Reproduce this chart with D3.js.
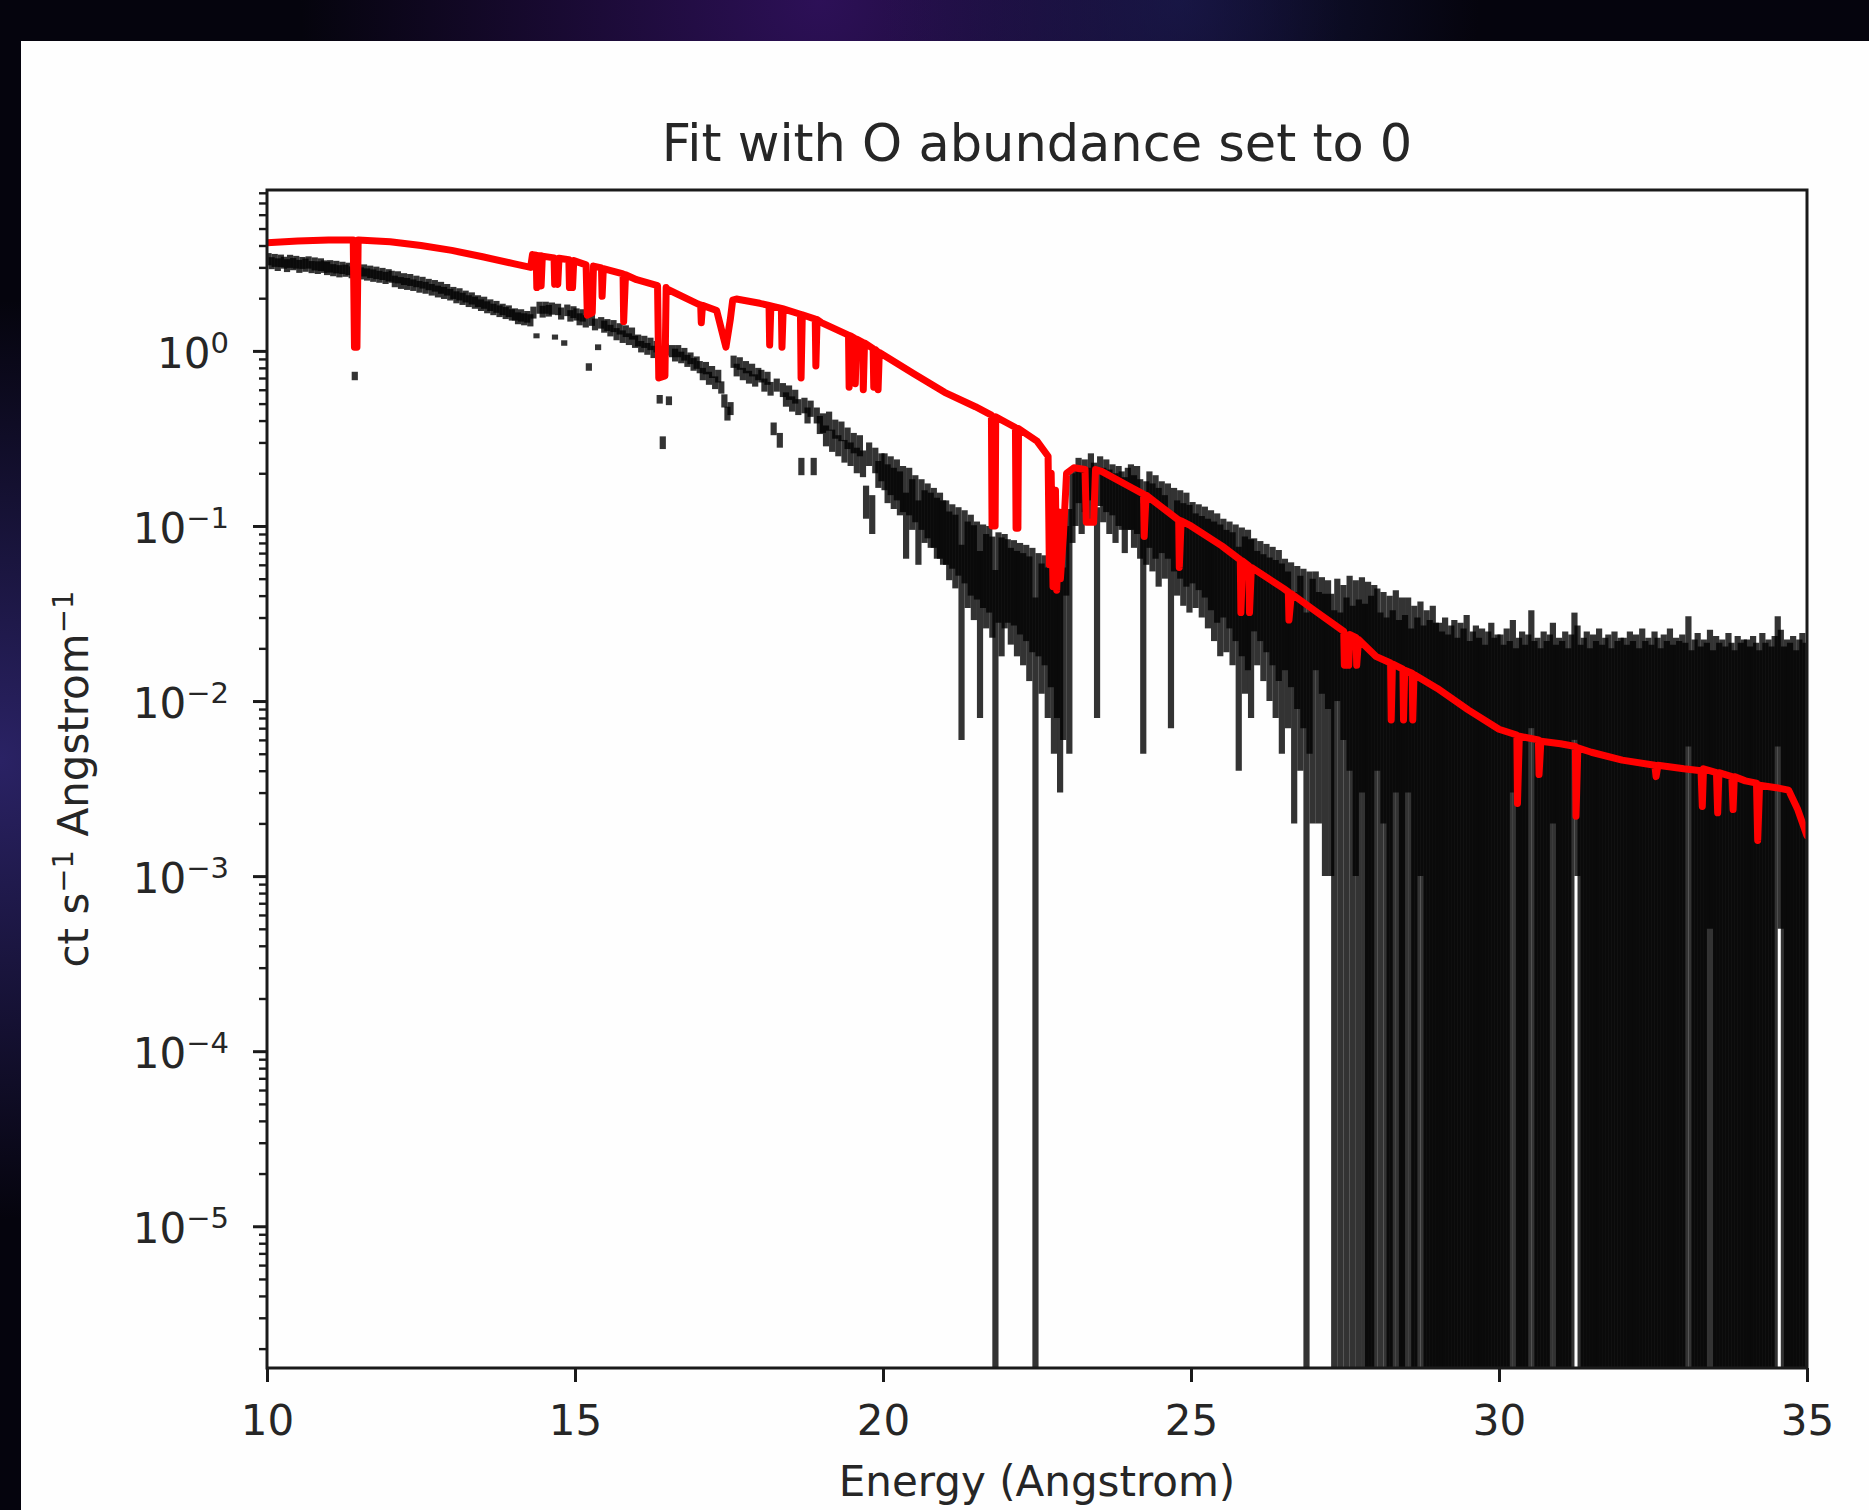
<!DOCTYPE html>
<html lang="en">
<head>
<meta charset="UTF-8">
<title>Fit with O abundance set to 0</title>
<script src="https://cdn.jsdelivr.net/npm/d3@7"></script>
<style>
  body { margin: 0; background: #05040d; }
  text { font-family: "DejaVu Sans", sans-serif; fill: #262626; }
</style>
</head>
<body>
<div class="chart"></div>
<script>
// spectrum bins, 0.05 A wide, first bin centre 10.025 A (one row = 1 A)
const binStart = 10.025, binWidth = 0.05;
const flux = [
  3.35,3.18,3.30,3.12,3.28,3.20,3.08,3.26,3.14,3.22,3.05,3.19,3.10,3.21,3.02,3.15,3.00,3.12,3.04,2.97, // 10
  3.05,2.90,3.02,2.86,2.99,2.88,2.95,2.82,0.72,2.92,2.78,2.89,2.74,2.84,2.70,2.80,2.66,2.76,2.62,2.71, // 11
  2.66,2.50,2.64,2.45,2.58,2.42,2.55,2.38,2.50,2.33,2.46,2.30,2.40,2.24,2.36,2.19,2.30,2.15,2.24,2.10, // 12
  2.15,2.03,2.11,1.99,2.05,1.93,2.00,1.89,1.93,1.83,1.89,1.78,1.83,1.73,1.79,1.69,1.73,1.65,1.69,1.61, // 13
  1.62,1.54,1.60,1.52,1.57,1.50,1.66,1.22,1.77,1.68,1.77,1.70,1.75,1.20,1.73,1.64,1.11,1.71,1.59,1.67, // 14
  1.62,1.52,1.60,1.48,0.81,1.51,1.42,1.05,1.45,1.38,1.41,1.31,1.39,1.25,1.34,1.21,1.30,1.17,1.26,1.13, // 15
  1.15,1.06,1.13,1.03,1.10,0.99,1.06,0.53,0.30,1.02,0.52,1.00,0.95,1.00,0.92,0.96,0.88,0.91,0.84,0.86, // 16
  0.81,0.74,0.80,0.70,0.76,0.66,0.72,0.62,0.52,0.44,0.47,0.87,0.78,0.85,0.74,0.81,0.71,0.78,0.68,0.74, // 17
  0.72,0.64,0.70,0.61,0.36,0.64,0.31,0.60,0.53,0.58,0.50,0.55,0.48,0.22,0.49,0.43,0.47,0.22,0.43,0.38, // 18
  0.39,0.33,0.40,0.31,0.36,0.29,0.35,0.27,0.32,0.26,0.30,0.24,0.29,0.23,0.14,0.26,0.12,0.24,0.20,0.22, // 19
  0.21,0.18,0.20,0.17,0.19,0.16,0.17,0.11,0.165,0.14,0.15,0.10,0.14,0.12,0.13,0.115,0.12,0.105,0.11,0.10, // 20
  0.10,0.085,0.095,0.08,0.09,0.042,0.085,0.07,0.078,0.065,0.072,0.04,0.068,0.058,0.066,0.055,0.022,0.06,0.052,0.058, // 21
  0.056,0.048,0.055,0.045,0.052,0.043,0.05,0.04,0.047,0.012,0.044,0.036,0.042,0.033,0.038,0.03,0.034,0.028,0.032,0.07, // 22
  0.065,0.14,0.16,0.19,0.15,0.18,0.16,0.20,0.17,0.068,0.19,0.16,0.18,0.15,0.17,0.14,0.16,0.15,0.13,0.155, // 23
  0.16,0.135,0.155,0.125,0.07,0.12,0.14,0.115,0.13,0.105,0.125,0.10,0.12,0.062,0.11,0.09,0.105,0.085,0.10,0.082, // 24
  0.092,0.076,0.088,0.072,0.084,0.068,0.078,0.064,0.073,0.06,0.07,0.057,0.066,0.054,0.062,0.04,0.058,0.049,0.055,0.046, // 25
  0.055,0.044,0.052,0.041,0.049,0.038,0.046,0.036,0.043,0.033,0.040,0.031,0.037,0.022,0.034,0.028,0.032,0.008,0.030,0.026, // 26
  0.035,0.022,0.031,0.021,0.029,0.021,0.013,0.03,0.012,0.026,0.015,0.028,0.011,0.025,0.014,0.027,0.012,0.024,0.016,0.022, // 27
  0.024,0.012,0.022,0.01,0.02,0.013,0.023,0.009,0.019,0.011,0.021,0.008,0.017,0.012,0.019,0.009,0.015,0.011,0.017,0.01, // 28
  0.012,0.009,0.014,0.008,0.011,0.013,0.007,0.012,0.01,0.015,0.008,0.011,0.013,0.009,0.012,0.007,0.011,0.014,0.009,0.01, // 29
  0.011,0.008,0.013,0.009,0.016,0.007,0.01,0.012,0.008,0.011,0.02,0.009,0.01,0.007,0.012,0.009,0.011,0.015,0.008,0.01, // 30
  0.009,0.012,0.007,0.011,0.019,0.014,0.008,0.01,0.012,0.007,0.011,0.009,0.013,0.008,0.01,0.011,0.007,0.012,0.009,0.01, // 31
  0.01,0.008,0.012,0.009,0.011,0.007,0.013,0.009,0.01,0.008,0.012,0.01,0.007,0.011,0.009,0.013,0.008,0.01,0.009,0.011, // 32
  0.009,0.018,0.007,0.01,0.012,0.008,0.01,0.009,0.013,0.007,0.011,0.009,0.01,0.008,0.012,0.009,0.007,0.011,0.009,0.01, // 33
  0.01,0.008,0.011,0.009,0.007,0.012,0.009,0.01,0.008,0.011,0.018,0.013,0.008,0.01,0.009,0.011,0.007,0.01,0.012,0.009  // 34
];
// 1-sigma error of each bin
const fluxErr = [
  0.27,0.25,0.28,0.26,0.27,0.25,0.26,0.28,0.25,0.27,0.26,0.25,0.27,0.26,0.24,0.27,0.25,0.26,0.25,0.26, // 10
  0.25,0.23,0.25,0.23,0.24,0.23,0.24,0.22,0.04,0.24,0.22,0.23,0.22,0.23,0.22,0.23,0.21,0.22,0.21,0.22, // 11
  0.21,0.19,0.21,0.19,0.20,0.19,0.20,0.18,0.19,0.18,0.19,0.18,0.18,0.17,0.18,0.17,0.18,0.17,0.17,0.16, // 12
  0.17,0.16,0.17,0.16,0.16,0.15,0.16,0.15,0.15,0.14,0.15,0.14,0.14,0.13,0.14,0.13,0.13,0.13,0.13,0.12, // 13
  0.13,0.12,0.13,0.12,0.12,0.12,0.13,0.04,0.14,0.13,0.14,0.13,0.14,0.04,0.13,0.13,0.04,0.13,0.12,0.13, // 14
  0.13,0.12,0.13,0.12,0.04,0.12,0.11,0.04,0.11,0.11,0.11,0.10,0.11,0.10,0.10,0.10,0.10,0.09,0.10,0.09, // 15
  0.09,0.08,0.09,0.08,0.09,0.08,0.08,0.03,0.025,0.08,0.03,0.08,0.08,0.08,0.07,0.08,0.07,0.07,0.07,0.07, // 16
  0.065,0.06,0.065,0.06,0.06,0.055,0.06,0.05,0.045,0.04,0.04,0.07,0.065,0.07,0.06,0.065,0.06,0.065,0.055,0.06, // 17
  0.06,0.055,0.06,0.055,0.03,0.055,0.03,0.055,0.05,0.055,0.05,0.05,0.05,0.025,0.05,0.045,0.05,0.025,0.045,0.045, // 18
  0.05,0.045,0.05,0.045,0.045,0.04,0.045,0.04,0.045,0.04,0.04,0.04,0.04,0.04,0.03,0.04,0.03,0.04,0.035,0.04, // 19
  0.05,0.045,0.05,0.045,0.05,0.045,0.05,0.045,0.05,0.045,0.045,0.04,0.045,0.04,0.045,0.04,0.045,0.04,0.045,0.04, // 20
  0.04,0.036,0.038,0.036,0.038,0.036,0.038,0.036,0.038,0.036,0.034,0.032,0.034,0.032,0.034,0.032,0.034,0.032,0.034,0.032, // 21
  0.028,0.027,0.028,0.027,0.028,0.027,0.028,0.027,0.028,0.027,0.026,0.025,0.026,0.025,0.026,0.025,0.026,0.025,0.026,0.03, // 22
  0.06,0.06,0.06,0.055,0.06,0.06,0.055,0.06,0.06,0.06,0.06,0.055,0.06,0.06,0.055,0.06,0.06,0.055,0.06,0.06, // 23
  0.065,0.06,0.065,0.06,0.065,0.06,0.065,0.06,0.065,0.06,0.055,0.05,0.055,0.055,0.055,0.05,0.055,0.05,0.055,0.05, // 24
  0.045,0.042,0.045,0.042,0.045,0.042,0.045,0.042,0.045,0.042,0.04,0.038,0.04,0.038,0.04,0.036,0.04,0.038,0.04,0.038, // 25
  0.03,0.028,0.03,0.028,0.03,0.028,0.03,0.028,0.03,0.028,0.025,0.024,0.025,0.02,0.025,0.024,0.025,0.024,0.025,0.024, // 26
  0.02,0.02,0.02,0.02,0.02,0.02,0.02,0.02,0.02,0.02,0.024,0.024,0.024,0.024,0.024,0.024,0.024,0.024,0.024,0.024, // 27
  0.02,0.02,0.02,0.02,0.02,0.02,0.02,0.02,0.02,0.02,0.018,0.018,0.018,0.018,0.018,0.018,0.018,0.018,0.018,0.018, // 28
  0.016,0.016,0.016,0.016,0.016,0.016,0.016,0.016,0.016,0.016,0.014,0.014,0.014,0.014,0.014,0.014,0.014,0.014,0.014,0.014, // 29
  0.013,0.013,0.013,0.013,0.013,0.013,0.013,0.013,0.013,0.013,0.013,0.013,0.013,0.013,0.013,0.013,0.013,0.013,0.013,0.013, // 30
  0.013,0.013,0.013,0.013,0.013,0.013,0.013,0.013,0.013,0.013,0.013,0.013,0.013,0.013,0.013,0.013,0.013,0.013,0.013,0.013, // 31
  0.013,0.013,0.013,0.013,0.013,0.013,0.013,0.013,0.013,0.013,0.013,0.013,0.013,0.013,0.013,0.013,0.013,0.013,0.013,0.013, // 32
  0.0125,0.0125,0.0125,0.0125,0.0125,0.0125,0.0125,0.0125,0.0125,0.0125,0.0125,0.0125,0.0125,0.0125,0.0125,0.0125,0.0125,0.0125,0.0125,0.0125, // 33
  0.0125,0.0125,0.0125,0.0125,0.0125,0.0125,0.0125,0.0125,0.0125,0.0125,0.0125,0.0125,0.0125,0.0125,0.0125,0.0125,0.0125,0.0125,0.0125,0.0125  // 34
];

// fitted model (red)
const modelWave = [10.00,10.50,11.00,11.40,11.42,11.46,11.48,12.00,12.50,13.00,13.50,14.00,14.28,14.31,14.37,14.38,14.40,14.44,14.45,14.47,
  14.66,14.67,14.70,14.72,14.74,14.90,14.91,14.96,14.98,15.18,15.20,15.28,15.30,15.43,15.44,15.46,15.78,15.79,15.82,16.00,
  16.34,16.36,16.46,16.48,16.50,17.00,17.04,17.05,17.07,17.30,17.45,17.52,17.56,17.62,18.00,18.15,18.16,18.18,18.35,18.36,
  18.38,18.66,18.67,18.69,18.90,18.91,18.93,19.00,19.44,19.45,19.47,19.54,19.55,19.57,19.67,19.68,19.70,19.84,19.85,19.87,
  19.91,19.92,19.94,20.00,20.50,21.00,21.50,21.76,21.77,21.82,21.83,22.00,22.15,22.16,22.19,22.20,22.50,22.68,22.70,22.73,
  22.76,22.80,22.82,22.86,22.88,22.93,22.98,23.10,23.28,23.30,23.42,23.45,23.55,24.00,24.23,24.24,24.27,24.50,24.80,24.81,
  24.84,25.00,25.50,25.80,25.81,25.84,25.94,25.95,25.98,26.50,26.58,26.59,26.63,27.00,27.48,27.49,27.56,27.58,27.68,27.69,
  27.72,28.00,28.24,28.25,28.27,28.44,28.45,28.47,28.59,28.60,28.62,29.00,29.50,30.00,30.29,30.30,30.33,30.64,30.65,30.68,
  31.00,31.24,31.25,31.28,31.50,32.00,32.53,32.55,32.58,33.00,33.28,33.30,33.32,33.53,33.55,33.57,33.78,33.80,33.82,34.00,
  34.18,34.20,34.23,34.50,34.70,34.85,35.00];
const modelFlux = [4.15,4.25,4.30,4.30,1.05,1.05,4.30,4.20,4.00,3.75,3.45,3.15,3.00,3.55,3.52,2.30,3.50,3.50,2.35,3.48,
  3.40,2.40,2.45,2.40,3.38,3.32,2.30,2.30,3.28,3.10,1.60,1.65,3.05,2.98,2.05,2.95,2.75,1.47,2.72,2.55,
  2.36,0.70,0.72,2.30,2.25,1.85,1.83,1.45,1.82,1.70,1.05,1.50,1.95,1.98,1.87,1.82,1.08,1.81,1.75,1.05,
  1.74,1.62,0.70,1.61,1.52,0.82,1.51,1.45,1.23,0.62,1.22,1.18,0.65,1.17,1.12,0.60,1.11,1.03,0.62,1.02,
  0.99,0.60,0.98,0.95,0.74,0.58,0.48,0.43,0.10,0.10,0.42,0.39,0.365,0.097,0.097,0.36,0.305,0.25,0.06,0.20,
  0.045,0.16,0.043,0.12,0.05,0.09,0.20,0.215,0.21,0.105,0.105,0.21,0.205,0.168,0.152,0.087,0.150,0.130,0.108,0.058,
  0.107,0.100,0.077,0.064,0.032,0.063,0.059,0.032,0.058,0.044,0.042,0.029,0.041,0.033,0.025,0.016,0.016,0.024,0.023,0.016,
  0.0225,0.018,0.0165,0.0078,0.0163,0.0152,0.0078,0.015,0.0144,0.0078,0.0142,0.0118,0.0089,0.0069,0.0064,0.0026,0.0063,0.0060,0.0038,0.0059,
  0.0057,0.0055,0.0022,0.0054,0.0051,0.0046,0.0043,0.0037,0.0043,0.0041,0.0040,0.0025,0.0041,0.0039,0.0023,0.0039,0.0037,0.0024,0.0037,0.0035,
  0.0034,0.0016,0.0033,0.0032,0.0031,0.0024,0.0017];

const xTicks = [10, 15, 20, 25, 30, 35];
const yMajorTicks = [1e-5, 1e-4, 1e-3, 1e-2, 1e-1, 1];
const yMajorExp = ["\u22125", "\u22124", "\u22123", "\u22122", "\u22121", "0"];

const W = 1869, H = 1510;
const plot = {left: 267, right: 1807, top: 190, bottom: 1368};

const svg = d3.select('.chart').append('svg')
  .attr('width', W).attr('height', H);

// dark backdrop around the white slide
const defs = svg.append('defs');
function glow(id, cx, cy, r, color, op) {
  const g = defs.append('radialGradient').attr('id', id)
    .attr('gradientUnits', 'userSpaceOnUse')
    .attr('cx', cx).attr('cy', cy).attr('r', r);
  g.append('stop').attr('offset', '0%').attr('stop-color', color).attr('stop-opacity', op);
  g.append('stop').attr('offset', '100%').attr('stop-color', color).attr('stop-opacity', 0);
}
glow('g1', 820, 0, 520, '#3a1470', 0.75);
glow('g2', 0, 760, 460, '#3a2f8a', 0.7);
glow('g3', 1180, 0, 300, '#1c1f5a', 0.6);
svg.append('rect').attr('width', W).attr('height', H).attr('fill', '#05040d');
['g1', 'g2', 'g3'].forEach(id =>
  svg.append('rect').attr('width', W).attr('height', H).attr('fill', `url(#${id})`));

svg.append('rect')
  .attr('x', 21).attr('y', 41)
  .attr('width', W - 21).attr('height', H - 41)
  .attr('fill', '#fefefe');

const x = d3.scaleLinear().domain([10, 35]).range([plot.left, plot.right]);
const y = d3.scaleLog().domain([1.55e-6, 8.3]).range([plot.bottom, plot.top]);
const yMin = y.domain()[0];

defs.append('clipPath').attr('id', 'plotclip')
  .append('rect')
  .attr('x', plot.left).attr('y', plot.top)
  .attr('width', plot.right - plot.left).attr('height', plot.bottom - plot.top);

// error bars of the data
const bins = flux.map((f, i) => ({w: binStart + i * binWidth, f: f, e: fluxErr[i]}));

const dataG = svg.append('g').attr('clip-path', 'url(#plotclip)');
dataG.selectAll('line')
  .data(bins)
  .enter()
  .append('line')
  .attr('x1', d => x(d.w))
  .attr('x2', d => x(d.w))
  .attr('y1', d => y(Math.max(d.f - d.e, yMin)))
  .attr('y2', d => y(d.f + d.e))
  .attr('stroke', '#000')
  .attr('stroke-width', 6.2)
  .attr('stroke-opacity', 0.8);

// model
const model = modelWave.map((w, i) => [w, modelFlux[i]]);
dataG.append('path')
  .datum(model)
  .attr('fill', 'none')
  .attr('stroke', '#ff0000')
  .attr('stroke-width', 7)
  .attr('stroke-linejoin', 'round')
  .attr('stroke-linecap', 'round')
  .attr('d', d3.line().x(d => x(d[0])).y(d => y(d[1])));

// axes
const xAxis = d3.axisBottom(x).tickValues(xTicks).tickSize(14).tickSizeOuter(0);
const gx = svg.append('g')
  .attr('transform', `translate(0, ${plot.bottom})`)
  .call(xAxis);
gx.select('.domain').remove();
gx.attr('font-size', null).attr('font-family', null);
gx.selectAll('line').attr('stroke', '#1a1a1a').attr('stroke-width', 3);
gx.selectAll('text')
  .attr('y', 67).attr('dy', null)
  .attr('font-size', 42).attr('fill', '#262626');

const yMinor = y.ticks().filter(v => yMajorTicks.every(m => Math.abs(v / m - 1) > 1e-6));
const gyMinor = svg.append('g')
  .attr('transform', `translate(${plot.left}, 0)`)
  .call(d3.axisLeft(y).tickValues(yMinor).tickSize(8).tickSizeOuter(0).tickFormat(''));
gyMinor.select('.domain').remove();
gyMinor.selectAll('line').attr('stroke', '#1a1a1a').attr('stroke-width', 2.4);

const gy = svg.append('g')
  .attr('transform', `translate(${plot.left}, 0)`)
  .call(d3.axisLeft(y).tickValues(yMajorTicks).tickSize(14).tickSizeOuter(0).tickFormat(''));
gy.select('.domain').remove();
gy.selectAll('line').attr('stroke', '#1a1a1a').attr('stroke-width', 3);

const yLabels = svg.append('g').selectAll('text')
  .data(yMajorTicks)
  .enter()
  .append('text')
  .attr('x', plot.left - 38)
  .attr('y', d => y(d) + 17)
  .attr('text-anchor', 'end')
  .attr('font-size', 42);
yLabels.append('tspan').text('10');
yLabels.append('tspan').attr('font-size', 29).attr('dy', -15).text((d, i) => yMajorExp[i]);

// frame
svg.append('rect')
  .attr('x', plot.left).attr('y', plot.top)
  .attr('width', plot.right - plot.left).attr('height', plot.bottom - plot.top)
  .attr('fill', 'none').attr('stroke', '#1a1a1a').attr('stroke-width', 3);

// titles
svg.append('text')
  .attr('x', (plot.left + plot.right) / 2).attr('y', 161)
  .attr('text-anchor', 'middle').attr('font-size', 51)
  .text('Fit with O abundance set to 0');

svg.append('text')
  .attr('x', (plot.left + plot.right) / 2).attr('y', 1496)
  .attr('text-anchor', 'middle').attr('font-size', 42)
  .text('Energy (Angstrom)');

const yTitle = svg.append('text')
  .attr('transform', `translate(88, ${(plot.top + plot.bottom) / 2}) rotate(-90)`)
  .attr('text-anchor', 'middle').attr('font-size', 42);
yTitle.append('tspan').text('ct s');
yTitle.append('tspan').attr('font-size', 29).attr('dy', -15).text('\u22121');
yTitle.append('tspan').attr('dy', 15).text(' Angstrom');
yTitle.append('tspan').attr('font-size', 29).attr('dy', -15).text('\u22121');
</script>
</body>
</html>
